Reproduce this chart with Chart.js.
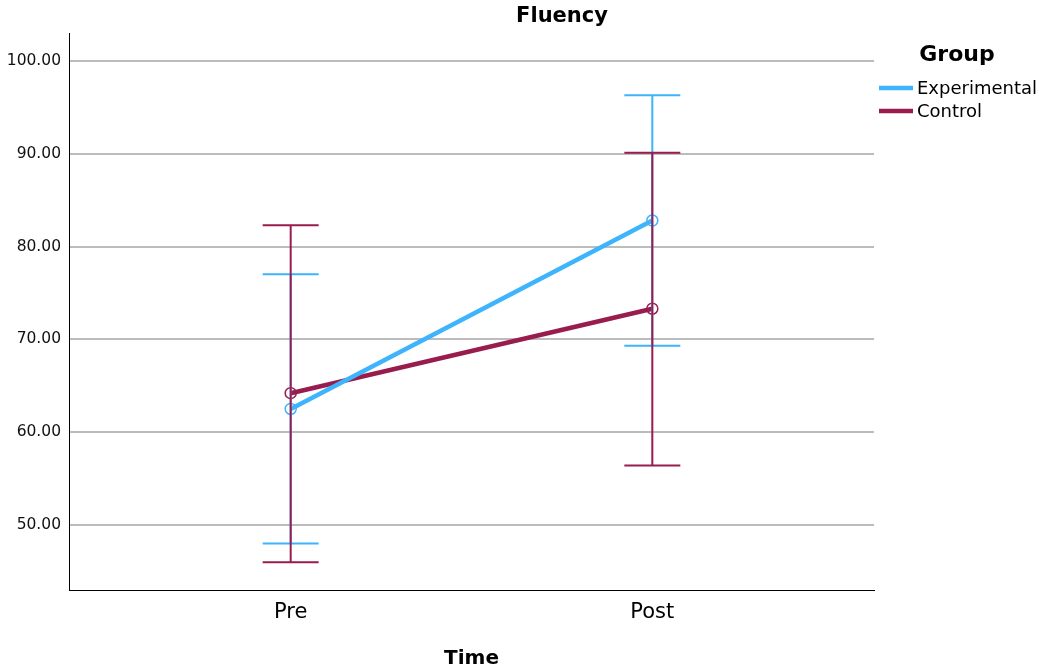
<!DOCTYPE html>
<html>
<head>
<meta charset="utf-8">
<script src="https://cdn.jsdelivr.net/npm/chart.js@4"></script>
<style>
  html, body { margin: 0; padding: 0; background: #fff; }
  #wrap { width: 1039px; height: 671px; }
</style>
</head>
<body>
<div id="wrap"><canvas id="fluencyChart" width="1039" height="671"></canvas></div>
<script>
// Time points and group means with error bar limits
const timeLabels = ['Pre', 'Post'];
const groups = ['Experimental', 'Control'];
const expMeans = [62.5, 82.8];
const expLow = [48.0, 69.3];
const expHigh = [77.0, 96.3];
const ctrlMeans = [64.2, 73.3];
const ctrlLow = [46.0, 56.4];
const ctrlHigh = [82.3, 90.1];
const yTicks = [50, 60, 70, 80, 90, 100];

const expColor = '#3db4fc';
const ctrlColor = '#981c4e';
const font = "'DejaVu Sans', Verdana, sans-serif";

const toPoints = means => means.map((v, i) => ({ x: i, y: v }));

// error bars drawn from low/high arrays through the chart scales
const errorBars = {
    id: 'errorBars',
    afterDatasetsDraw(chart) {
        const { ctx, scales: { x, y } } = chart;
        const sets = [
            { low: expLow, high: expHigh, color: expColor },
            { low: ctrlLow, high: ctrlHigh, color: ctrlColor }
        ];
        ctx.save();
        ctx.lineWidth = 2;
        sets.forEach(s => {
            ctx.strokeStyle = s.color;
            s.low.forEach((lo, i) => {
                const px = x.getPixelForValue(i);
                const yl = y.getPixelForValue(lo);
                const yh = y.getPixelForValue(s.high[i]);
                const half = 28;
                ctx.beginPath();
                ctx.moveTo(px, yl); ctx.lineTo(px, yh);
                ctx.moveTo(px - half, yl); ctx.lineTo(px + half, yl);
                ctx.moveTo(px - half, yh); ctx.lineTo(px + half, yh);
                ctx.stroke();
            });
        });
        ctx.restore();
    }
};

// chart title and group legend
const decorations = {
    id: 'decorations',
    afterDraw(chart) {
        const ctx = chart.ctx;
        ctx.save();
        ctx.fillStyle = '#000';
        ctx.textBaseline = 'middle';
        ctx.textAlign = 'center';
        ctx.font = 'bold 21px ' + font;
        ctx.fillText('Fluency', 562, 17);
        ctx.font = 'bold 22px ' + font;
        ctx.fillText('Group', 957, 55);

        ctx.textAlign = 'left';
        ctx.font = '18px ' + font;
        [expColor, ctrlColor].forEach((c, i) => {
            const ly = 88 + i * 23;
            ctx.strokeStyle = c;
            ctx.lineWidth = 4.5;
            ctx.beginPath();
            ctx.moveTo(879, ly); ctx.lineTo(913, ly);
            ctx.stroke();
            ctx.fillStyle = '#000';
            ctx.fillText(groups[i], 917, ly + 1);
        });
        ctx.restore();
    }
};

const ctx = document.getElementById('fluencyChart').getContext('2d');

const fluencyChart = new Chart(ctx, {
    type: 'line',
    data: {
        datasets: [{
            label: groups[0],
            data: toPoints(expMeans),
            borderColor: expColor,
            backgroundColor: 'rgba(0,0,0,0)',
            borderWidth: 4.5,
            pointRadius: 5.5,
            pointBorderWidth: 1.5,
            pointBorderColor: expColor,
            pointBackgroundColor: 'rgba(0,0,0,0)',
            tension: 0
        }, {
            label: groups[1],
            data: toPoints(ctrlMeans),
            borderColor: ctrlColor,
            backgroundColor: 'rgba(0,0,0,0)',
            borderWidth: 4.5,
            pointRadius: 5.5,
            pointBorderWidth: 1.5,
            pointBorderColor: ctrlColor,
            pointBackgroundColor: 'rgba(0,0,0,0)',
            tension: 0
        }]
    },
    options: {
        responsive: false,
        animation: false,
        layout: { padding: { top: 33, right: 165, left: 0, bottom: 0 } },
        plugins: {
            legend: { display: false },
            title: { display: false },
            tooltip: { enabled: false }
        },
        scales: {
            x: {
                type: 'linear',
                min: -0.613,
                max: 1.613,
                afterBuildTicks: s => { s.ticks = timeLabels.map((_, i) => ({ value: i })); },
                afterFit: s => { s.height = 81; },
                grid: { display: false, drawTicks: false },
                border: { display: true, color: '#000', width: 1 },
                ticks: {
                    padding: 10,
                    color: '#000',
                    font: { family: font, size: 21 },
                    callback: v => timeLabels[v]
                },
                title: {
                    display: true,
                    text: 'Time',
                    color: '#000',
                    font: { family: font, size: 20, weight: 'bold' },
                    padding: { top: 0, bottom: 0 }
                }
            },
            y: {
                min: 43,
                max: 103,
                afterBuildTicks: s => { s.ticks = yTicks.map(v => ({ value: v })); },
                afterFit: s => { s.width = 69; },
                grid: { color: '#bcbcbc', lineWidth: 2, drawTicks: false },
                border: { display: true, color: '#000', width: 1 },
                ticks: {
                    padding: 8,
                    color: '#111',
                    font: { family: font, size: 15.5 },
                    callback: v => v.toFixed(2)
                }
            }
        }
    },
    plugins: [errorBars, decorations]
});
</script>
</body>
</html>
